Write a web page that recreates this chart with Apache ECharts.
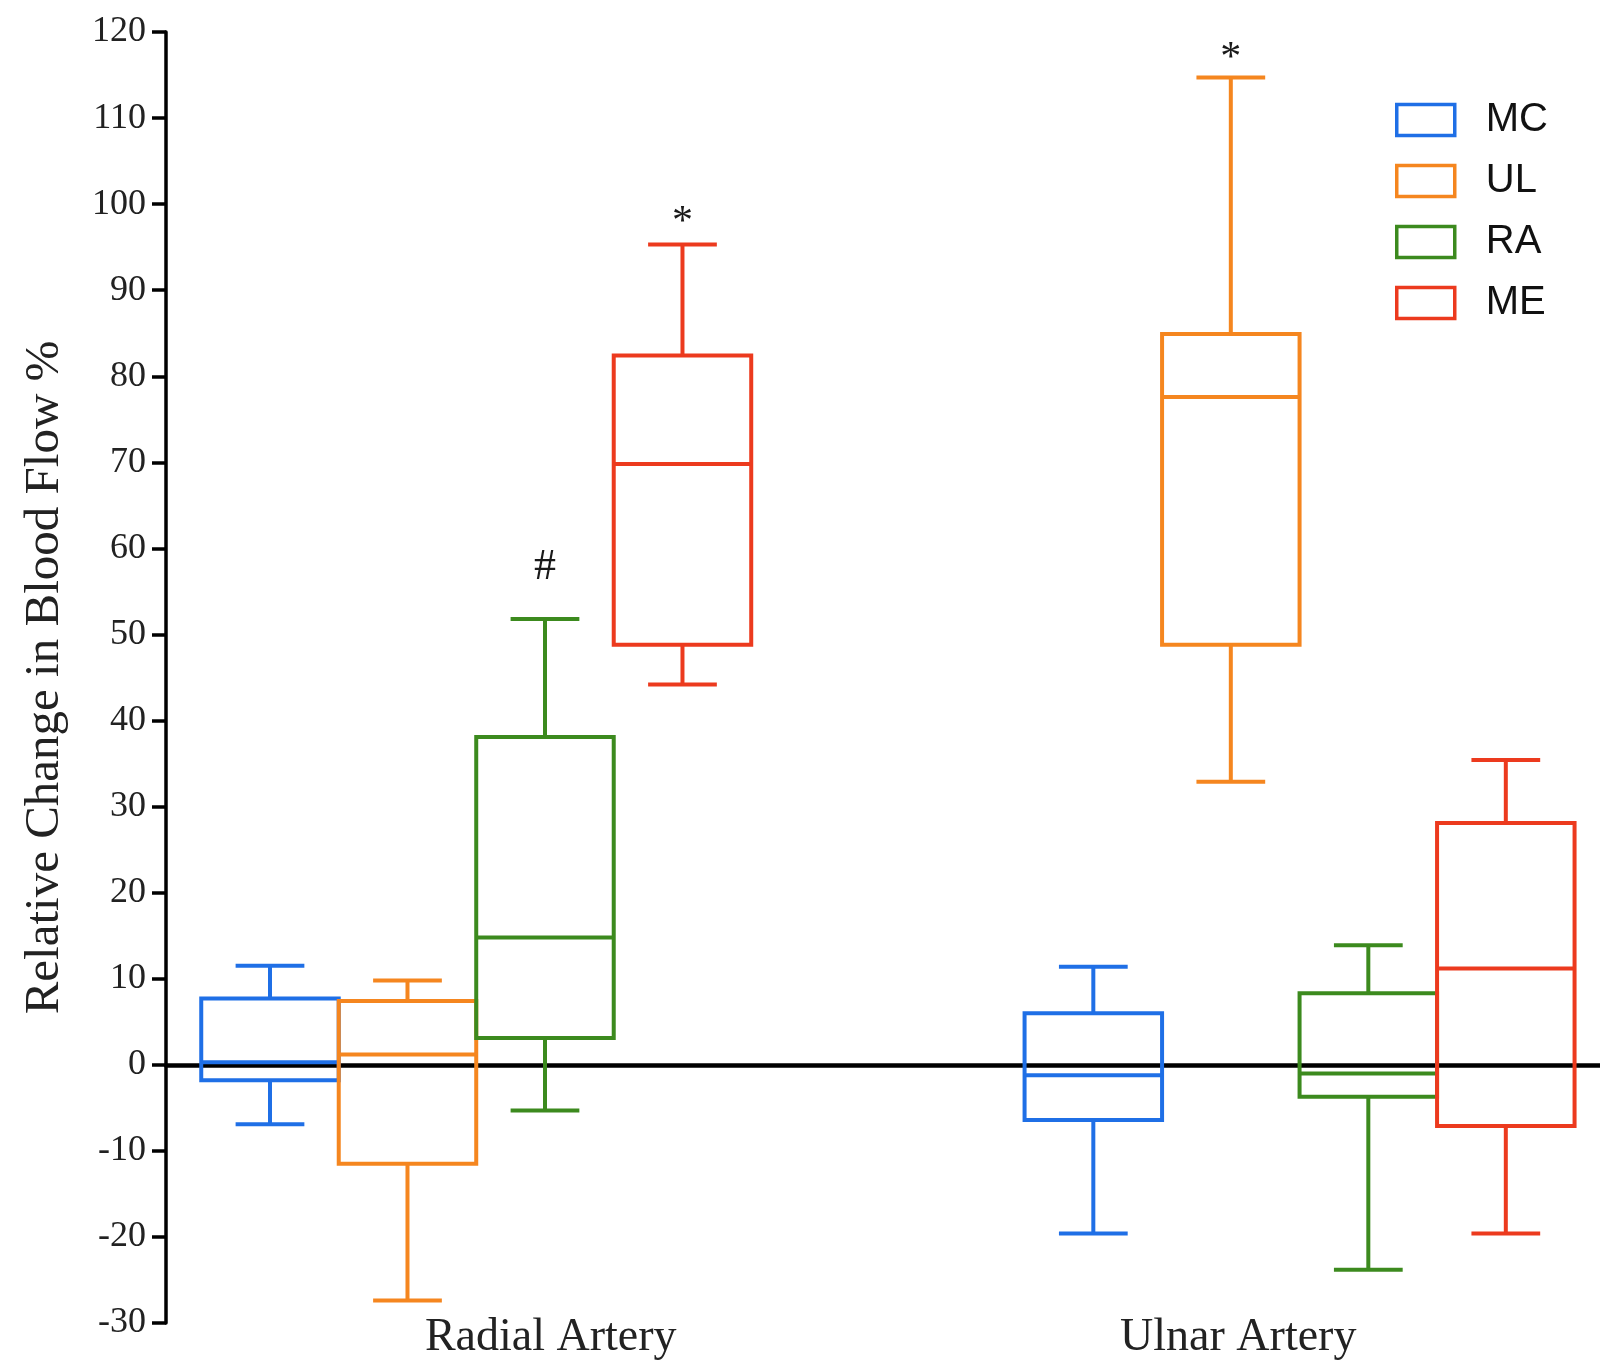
<!DOCTYPE html>
<html>
<head>
<meta charset="utf-8">
<script src="https://cdn.jsdelivr.net/npm/echarts@6/dist/echarts.min.js"></script>
<style>
  html, body { margin: 0; padding: 0; background: #fff; }
  #chart { width: 1600px; height: 1364px; }
</style>
</head>
<body>
<div id="chart"></div>
<script>
// ---------------- DATA ----------------
const categories = ['Radial Artery', 'Ulnar Artery'];
const groupNames = ['MC', 'UL', 'RA', 'ME'];
// each row: [min, Q1, median, Q3, max] for Radial, Ulnar
const MC = [[-6.9, -1.8, 0.3, 7.7, 11.5], [-19.6, -6.4, -1.2, 6.0, 11.4]];
const UL = [[-27.4, -11.5, 1.2, 7.4, 9.8], [32.9, 48.8, 77.6, 84.9, 114.7]];
const RA = [[-5.3, 3.1, 14.8, 38.1, 51.8], [-23.8, -3.7, -1.0, 8.3, 13.9]];
const ME = [[44.2, 48.8, 69.8, 82.4, 95.3], [-19.6, -7.1, 11.2, 28.1, 35.4]];
// significance marks and the value at which each sits
const marksMC = ['', ''];
const marksUL = ['', '*'];
const marksRA = ['#', ''];
const marksME = ['*', ''];
const markValMC = [null, null];
const markValUL = [null, 116.9];
const markValRA = [57.8, null];
const markValME = [97.8, null];
const yTicks = { min: -30, max: 120, interval: 10 };
const yAxisTitle = 'Relative Change in Blood Flow %';

// ---------------- STYLE ----------------
const colors = ['#1f6fe6', '#f5861f', '#3c8a1e', '#ec3a1e'];
const BOX_W = 0.167;       // box width in x units (group spacing = 1)
const SERIF = "'Liberation Serif', 'Times New Roman', serif";
const SANS = "'Liberation Sans', Arial, sans-serif";

const allData = [MC, UL, RA, ME];
const allMarks = [marksMC, marksUL, marksRA, marksME];
const allMarkVals = [markValMC, markValUL, markValRA, markValME];

function makeSeries(si) {
  const data = allData[si].map((r, gi) => [gi].concat(r));
  return {
    name: groupNames[si],
    type: 'custom',
    xAxisIndex: 0,
    yAxisIndex: 0,
    itemStyle: { color: colors[si], borderColor: colors[si] },
    data: data,
    encode: { x: 0, y: [1, 2, 3, 4, 5] },
    renderItem: function (params, api) {
      const g = api.value(0);
      const cx = g + (si - 1.5) * BOX_W;
      const xl = api.coord([cx - BOX_W / 2, 0])[0];
      const xr = api.coord([cx + BOX_W / 2, 0])[0];
      const xc = (xl + xr) / 2;
      const w = xr - xl;
      const y = (v) => api.coord([cx, v])[1];
      const vMin = api.value(1), q1 = api.value(2), med = api.value(3), q3 = api.value(4), vMax = api.value(5);
      const st = { stroke: colors[si], lineWidth: 4, fill: 'none' };
      const capHalf = w / 4;
      const children = [
        { type: 'rect', shape: { x: xl, y: y(q3), width: w, height: y(q1) - y(q3) }, style: st },
        { type: 'line', shape: { x1: xl, y1: y(med), x2: xr, y2: y(med) }, style: st },
        { type: 'line', shape: { x1: xc, y1: y(q3), x2: xc, y2: y(vMax) }, style: st },
        { type: 'line', shape: { x1: xc - capHalf, y1: y(vMax), x2: xc + capHalf, y2: y(vMax) }, style: st },
        { type: 'line', shape: { x1: xc, y1: y(q1), x2: xc, y2: y(vMin) }, style: st },
        { type: 'line', shape: { x1: xc - capHalf, y1: y(vMin), x2: xc + capHalf, y2: y(vMin) }, style: st }
      ];
      const mk = allMarks[si][params.dataIndex];
      const mv = allMarkVals[si][params.dataIndex];
      if (mk && mv != null) {
        children.push({
          type: 'text',
          style: {
            x: xc, y: y(mv), text: mk,
            fill: '#1a1a1a', font: (mk === '#' ? '44px ' : '42px ') + SERIF,
            align: 'center', verticalAlign: 'middle'
          }
        });
      }
      return { type: 'group', children: children };
    }
  };
}

const chart = echarts.init(document.getElementById('chart'), null, { renderer: 'canvas' });
chart.setOption({
  animation: false,
  backgroundColor: '#ffffff',
  grid: [
    { left: 166, right: 0, top: 32, bottom: 41, containLabel: false },
    { left: 207, right: 18, top: 32, bottom: 41, containLabel: false }
  ],
  legend: {
    orient: 'vertical',
    left: 1395,
    top: 100,
    itemWidth: 58,
    itemHeight: 31,
    itemGap: 21,
    icon: 'rect',
    selectedMode: false,
    padding: 0,
    textStyle: { fontFamily: SANS, fontSize: 40, color: '#111', lineHeight: 40, padding: [0, 0, 0, 26] },
    data: groupNames.map((n, i) => ({
      name: n,
      itemStyle: { color: 'rgba(255,255,255,0)', borderColor: colors[i], borderWidth: 3.5 }
    }))
  },
  xAxis: [
    {
      type: 'value',
      gridIndex: 0,
      min: -0.3768,
      max: 1.3649,
      position: 'bottom',
      axisLine: { show: true, onZero: true, lineStyle: { color: '#000', width: 4.5 } },
      axisTick: { show: false },
      axisLabel: { show: false },
      splitLine: { show: false }
    },
    {
      type: 'category',
      gridIndex: 1,
      data: categories,
      position: 'bottom',
      boundaryGap: true,
      axisLine: { show: false, onZero: false },
      axisTick: { show: false },
      axisLabel: { fontFamily: SERIF, fontSize: 46, color: '#222', margin: -8 },
      splitLine: { show: false }
    }
  ],
  yAxis: [
    {
      type: 'value',
      gridIndex: 0,
      min: yTicks.min,
      max: yTicks.max,
      interval: yTicks.interval,
      name: yAxisTitle,
      nameLocation: 'middle',
      nameGap: 96,
      nameTextStyle: { fontFamily: SERIF, fontSize: 49, color: '#222' },
      axisLine: { show: true, onZero: false, lineStyle: { color: '#000', width: 3.5 } },
      axisTick: { show: true, inside: false, length: 14, lineStyle: { color: '#000', width: 3.5 } },
      axisLabel: { fontFamily: SERIF, fontSize: 36, color: '#222', margin: 20 },
      splitLine: { show: false }
    },
    {
      type: 'value',
      gridIndex: 1,
      show: false,
      min: yTicks.min,
      max: yTicks.max
    }
  ],
  series: [0, 1, 2, 3].map(makeSeries)
});
</script>
</body>
</html>
